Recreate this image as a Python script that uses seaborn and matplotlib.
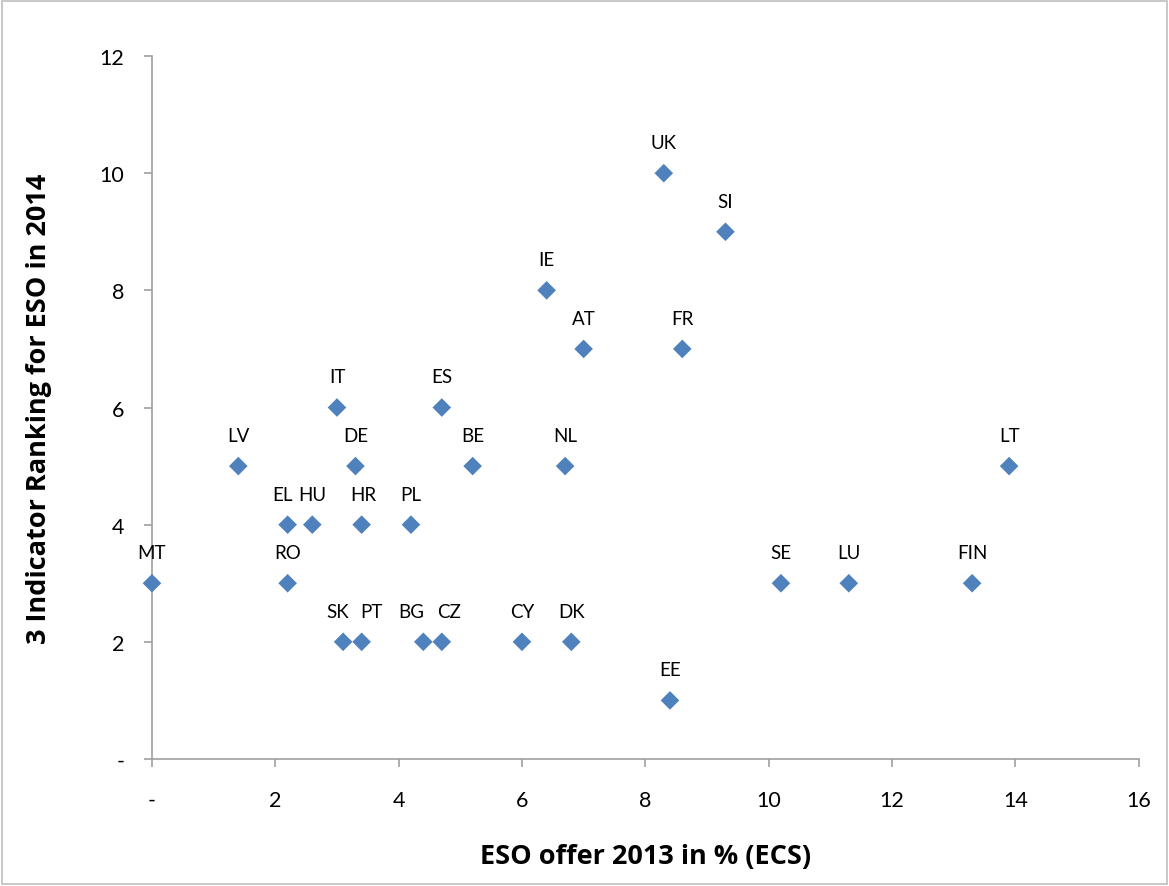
import pandas as pd
import seaborn as sns
import matplotlib
matplotlib.use('Agg')
import matplotlib.pyplot as plt
from matplotlib.patches import Rectangle

# Country codes and values
countries = ["MT", "LV", "EL", "RO", "HU", "IT", "SK", "DE", "HR", "PT",
             "PL", "BG", "ES", "CZ", "BE", "CY", "IE", "NL", "DK", "AT",
             "UK", "EE", "FR", "SI", "SE", "LU", "FIN", "LT"]
eso_offer = [0.0, 1.4, 2.2, 2.2, 2.6, 3.0, 3.1, 3.3, 3.4, 3.4,
             4.2, 4.4, 4.7, 4.7, 5.2, 6.0, 6.4, 6.7, 6.8, 7.0,
             8.3, 8.4, 8.6, 9.3, 10.2, 11.3, 13.3, 13.9]
ranking = [3, 5, 4, 3, 4, 6, 2, 5, 4, 2,
           4, 2, 6, 2, 5, 2, 8, 5, 2, 7,
           10, 1, 7, 9, 3, 3, 3, 5]

x_ticks = [0, 2, 4, 6, 8, 10, 12, 14, 16]
x_ticklabels = ["-", "2", "4", "6", "8", "10", "12", "14", "16"]
y_ticks = [0, 2, 4, 6, 8, 10, 12]
y_ticklabels = ["-", "2", "4", "6", "8", "10", "12"]

# small horizontal label nudges (points) for crowded labels
label_nudge = {"SK": -4, "PT": 7, "BG": -9, "CZ": 5, "EL": -4, "HR": 1}


def main():
    df = pd.DataFrame({'country': countries, 'eso': eso_offer, 'rank': ranking})

    sns.set_style('white')
    plt.rcParams['font.family'] = ['Lato', 'DejaVu Sans']

    fig = plt.figure(figsize=(11.69, 8.87), dpi=100)
    ax = fig.add_axes([0.130, 0.1432, 0.844, 0.7925])

    sns.scatterplot(data=df, x='eso', y='rank', marker='D', s=90,
                    color='#4F81BD', edgecolor='none', ax=ax, zorder=3,
                    clip_on=False)

    for _, row in df.iterrows():
        dx = label_nudge.get(row['country'], 0)
        ax.annotate(row['country'], (row['eso'], row['rank']),
                    xytext=(dx, 22), textcoords='offset points',
                    ha='center', va='center', fontsize=13.5, color='black')

    ax.set_xlim(0, 16)
    ax.set_ylim(0, 12)
    ax.set_xticks(x_ticks)
    ax.set_xticklabels(x_ticklabels)
    ax.set_yticks(y_ticks)
    ax.set_yticklabels(y_ticklabels)
    ax.tick_params(axis='both', direction='out', length=6, width=1.2,
                   color='#a0a0a0', labelcolor='black', labelsize=15.5,
                   bottom=True, left=True)
    ax.tick_params(axis='x', pad=16)
    ax.tick_params(axis='y', pad=14)

    for side in ['top', 'right']:
        ax.spines[side].set_visible(False)
    for side in ['left', 'bottom']:
        ax.spines[side].set_color('#a0a0a0')
        ax.spines[side].set_linewidth(1.2)

    ax.set_xlabel("ESO offer 2013 in % (ECS)", fontsize=19.5, fontweight='bold',
                  family=['Open Sans', 'DejaVu Sans'], color='black', labelpad=24)
    ax.set_ylabel("3 Indicator Ranking for ESO in 2014", fontsize=19.5, fontweight='bold',
                  family=['Open Sans', 'DejaVu Sans'], color='black', labelpad=34)

    # light frame around the whole chart, like the Excel chart area
    fig.patches.append(Rectangle((0.002, 0.002), 0.996, 0.996, transform=fig.transFigure,
                                 fill=False, edgecolor='#bfbfbf', linewidth=1.2))

    fig.savefig('out.png', dpi=100)


if __name__ == '__main__':
    main()
